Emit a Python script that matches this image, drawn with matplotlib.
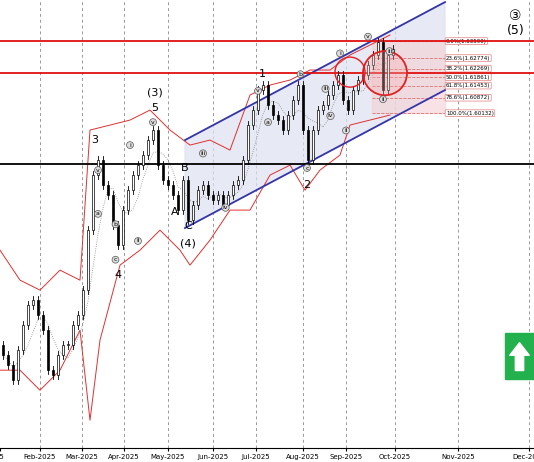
import matplotlib
matplotlib.use("Agg")
import matplotlib.pyplot as plt
from matplotlib.patches import Ellipse, Rectangle, Polygon
import numpy as np
import pandas as pd

# 收盘价（每根K线）
closes = [1.4852, 1.4804, 1.4732, 1.4876, 1.4996, 1.5092, 1.5116, 1.5044, 1.4972, 1.4780,
          1.4756, 1.4852, 1.4900, 1.4900, 1.4996, 1.5044, 1.5164, 1.5452, 1.5716, 1.5788,
          1.5668, 1.5620, 1.5476, 1.5380, 1.5548, 1.5644, 1.5716, 1.5764, 1.5812, 1.5884,
          1.5932, 1.5764, 1.5692, 1.5668, 1.5620, 1.5548, 1.5692, 1.5500, 1.5572, 1.5644,
          1.5668, 1.5620, 1.5596, 1.5620, 1.5572, 1.5620, 1.5668, 1.5692, 1.5788, 1.5956,
          1.6028, 1.6124, 1.6148, 1.6052, 1.6004, 1.5980, 1.5932, 1.6004, 1.6076, 1.6148,
          1.5932, 1.5788, 1.5932, 1.6028, 1.6052, 1.6100, 1.6148, 1.6196, 1.6076, 1.6028,
          1.6124, 1.6172, 1.6196, 1.6244, 1.6292, 1.6354, 1.6124, 1.6292, 1.6322]
first_open = 1.4900

# 布林带
up_x = [-0.6, 3.4, 7.4, 11.4, 15.4, 17.4, 21.4, 25.4, 29.4, 33.4, 37.4, 41.4, 45.4, 49.4, 53.4,
        57.4, 61.4, 65.4, 69.4, 73.4, 77.4]
up_y = [1.5356, 1.5212, 1.5164, 1.5260, 1.5212, 1.5932, 1.5956, 1.5980, 1.6028, 1.5932, 1.5860,
        1.5884, 1.5836, 1.6100, 1.6148, 1.6172, 1.6220, 1.6220, 1.6292, 1.6340, 1.6388]
lo_x = [-0.6, 3.4, 7.4, 11.4, 15.4, 17.4, 19.4, 23.4, 27.4, 31.4, 35.4, 37.4, 41.4, 45.4, 49.4,
        53.4, 57.4, 60.4, 63.4, 67.4, 69.4, 73.4, 77.4]
lo_y = [1.4780, 1.4780, 1.4684, 1.4780, 1.4972, 1.4540, 1.4924, 1.5284, 1.5356, 1.5452, 1.5356,
        1.5284, 1.5404, 1.5548, 1.5548, 1.5716, 1.5764, 1.5644, 1.5740, 1.5812, 1.5956, 1.5980, 1.6004]

months = ["25", "Feb-2025", "Mar-2025", "Apr-2025", "May-2025", "Jun-2025", "Jul-2025",
          "Aug-2025", "Sep-2025", "Oct-2025", "Nov-2025", "Dec-2025"]
month_pos = [-0.6, 7.4, 15.8, 24.2, 33.0, 42.0, 50.6, 60.0, 68.6, 78.4, 91.0, 105.2]

fib_pct = ["0.0%", "23.6%", "38.2%", "50.0%", "61.8%", "78.6%", "100.0%"]
fib_val = [1.63590, 1.62774, 1.62269, 1.61861, 1.61453, 1.60872, 1.60132]

red_levels = [1.6359, 1.6205]
black_level = 1.5769

fig = plt.figure(figsize=(5.34, 4.62), dpi=100)
ax = fig.add_axes([0, 0.03, 1, 0.97])
ax.set_xlim(-0.6, 106.2)
ax.set_ylim(1.4406, 1.6556)

for p in month_pos[1:]:
    ax.axvline(p, color="#999999", ls=(0, (3, 3)), lw=0.7, zorder=0)

# 通道
ch_x = [36.4, 88.4]
ch_up = [1.5884, 1.6546]
ch_lo = [1.5462, 1.6124]
ax.add_patch(Polygon([(ch_x[0], ch_up[0]), (ch_x[1], ch_up[1]), (ch_x[1], ch_lo[1]),
                      (ch_x[0], ch_lo[0])], color="#dde0f0", alpha=0.7, zorder=0.5))
ax.plot(ch_x, ch_up, color="#3535a8", lw=1.3, zorder=3)
ax.plot(ch_x, ch_lo, color="#3535a8", lw=1.3, zorder=3)

# 斐波那契
ax.add_patch(Rectangle((73.8, fib_val[-1]), 14.6, fib_val[0] - fib_val[-1],
                       color="#f6d0d4", alpha=0.6, zorder=0.6))
for pct, v in zip(fib_pct, fib_val):
    ax.plot([73.8, 88.4], [v, v], color="#e07070", lw=0.6, ls="--", zorder=1)
    ax.text(88.6, v, f"{pct}({v:.5f})", fontsize=4, va="center", ha="left",
            bbox=dict(boxstyle="round,pad=0.15", fc="white", ec="#e08080", lw=0.5))

for lv in red_levels:
    ax.axhline(lv, color="#e01010", lw=1.3, zorder=4)
ax.axhline(black_level, color="black", lw=1.3, zorder=4)

# 布林带与均线
ax.plot(up_x, up_y, color="#e03030", lw=0.7, zorder=2)
ax.plot(lo_x, lo_y, color="#e03030", lw=0.7, zorder=2)
ma = pd.Series(closes).rolling(5, min_periods=1).mean()
ax.plot(range(len(closes)), ma, color="#888888", lw=0.6, ls=":", zorder=2)

# K线
opens = [first_open] + closes[:-1]
for i, (o, c) in enumerate(zip(opens, closes)):
    hi, lo = max(o, c) + 0.002, min(o, c) - 0.002
    ax.plot([i, i], [lo, hi], color="black", lw=0.6, zorder=5)
    ax.add_patch(Rectangle((i - 0.25, min(o, c)), 0.5, max(abs(c - o), 0.0004),
                           fc="white" if c >= o else "black", ec="black", lw=0.5, zorder=6))

# 圆圈（按像素比例设定宽高）
ax.add_patch(Ellipse((76.4, 1.6205), 8.8, 0.0212, fc="#f5b0b0", alpha=0.35,
                     ec="#e02020", lw=1.2, zorder=7))
ax.add_patch(Ellipse((76.4, 1.6205), 8.8, 0.0212, fc="none", ec="#e02020", lw=1.2, zorder=7))
ax.add_patch(Ellipse((69.4, 1.6210), 6.0, 0.0144, fc="none", ec="#e02020", lw=1.0, zorder=7))

# 波浪标注
labels = [("3", 18.4, 1.5884, 8), ("4", 23.0, 1.5236, 8), ("(3)", 30.4, 1.6110, 8),
          ("5", 30.4, 1.6040, 8), ("A", 34.4, 1.5540, 8), ("B", 36.4, 1.5750, 8),
          ("C", 37.0, 1.5470, 8), ("(4)", 37.0, 1.5390, 8), ("1", 51.8, 1.6200, 8),
          ("2", 60.8, 1.5670, 8), ("③", 102.5, 1.6480, 10), ("(5)", 102.5, 1.6410, 9)]
for t, x, y, fs in labels:
    ax.text(x, y, t, fontsize=fs, ha="center", va="center", zorder=9)
small = [("v", 19.0, 1.5740), ("a", 19.0, 1.5530), ("b", 22.5, 1.5480), ("c", 22.5, 1.5310),
         ("v", 30.0, 1.5970), ("i", 25.4, 1.5860), ("ii", 27.0, 1.5400), ("iii", 40.0, 1.5820),
         ("iv", 44.5, 1.5560), ("v", 51.0, 1.6120), ("a", 53.0, 1.5970), ("b", 59.5, 1.6200),
         ("c", 60.8, 1.5750), ("i", 67.4, 1.6300), ("ii", 68.6, 1.5930), ("iii", 64.5, 1.6130),
         ("iv", 65.5, 1.6000), ("v", 73.0, 1.6380), ("ii", 76.0, 1.6080), ("iii", 77.3, 1.6310)]
for t, x, y in small:
    ax.text(x, y, t, fontsize=4.5, ha="center", va="center", zorder=9,
            bbox=dict(boxstyle="circle,pad=0.15", fc="#dddddd", ec="#555555", lw=0.5))

# 绿色箭头
ax.add_patch(Rectangle((100.4, 1.4740), 5.8, 0.0216, color="#22b14c", zorder=9))
ax.annotate("", xy=(103.3, 1.4925), xytext=(103.3, 1.4765),
            arrowprops=dict(arrowstyle="simple,head_width=1.4,head_length=0.9,tail_width=0.6",
                            fc="white", ec="white"), zorder=10)

ax.set_xticks(month_pos)
ax.set_xticklabels(months, fontsize=5)
ax.set_yticks([])
ax.tick_params(axis="x", length=2, pad=2)
for s in ["top", "right", "left"]:
    ax.spines[s].set_visible(False)

plt.savefig("out.png", dpi=100)
plt.close()
